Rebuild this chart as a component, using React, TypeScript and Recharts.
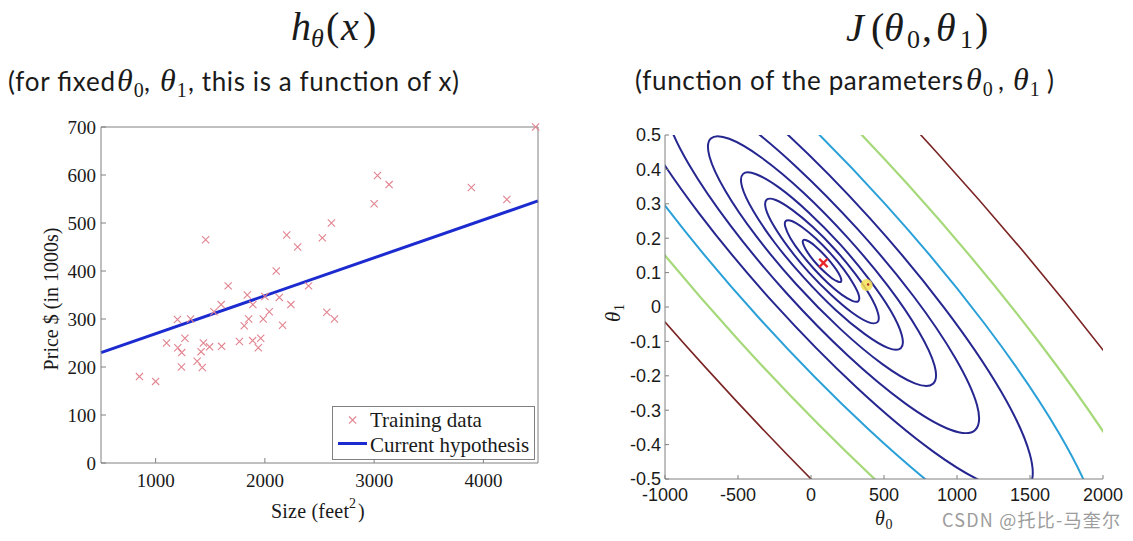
import React from 'react';
import { ComposedChart, Scatter, Line, XAxis, YAxis, Legend } from 'recharts';

// ---------------- left panel : training data ----------------
const houseSizes = [2104, 1600, 2400, 1416, 3000, 1985, 1534, 1427, 1380, 1494, 1940, 2000, 1890, 4478, 1268, 2300, 1320, 1236, 2609, 3031, 1767, 1888, 1604, 1962, 3890, 1100, 1458, 2526, 2200, 2637, 1839, 1000, 2040, 3137, 1811, 1437, 1239, 2132, 4215, 2162, 1664, 2238, 2567, 1200, 852, 1852, 1203];
const housePrices = [400, 330, 369, 232, 540, 300, 315, 199, 212, 242, 240, 347, 330, 700, 260, 450, 300, 200, 500, 599, 253, 255, 243, 260, 574, 250, 465, 469, 475, 300, 350, 170, 315, 580, 286, 250, 230, 345, 549, 287, 369, 330, 314, 299, 180, 300, 240];
const hypothesisX = [500, 4500];
const hypothesisY = [230, 546];
const sizeTicks = [1000, 2000, 3000, 4000];
const priceTicks = [0, 100, 200, 300, 400, 500, 600, 700];

// ---------------- right panel : contour lines of J(theta0, theta1) ----------------
const theta0Ticks = [-1000, -500, 0, 500, 1000, 1500, 2000];
const theta1Ticks = [-0.5, -0.4, -0.3, -0.2, -0.1, 0, 0.1, 0.2, 0.3, 0.4, 0.5];

const contour1 = [[204, 0.073], [206, 0.082], [188, 0.099], [152, 0.121], [105, 0.145], [54, 0.167], [6, 0.185], [-32, 0.194], [-53, 0.194], [-55, 0.185], [-37, 0.168], [-2, 0.146], [45, 0.122], [97, 0.100], [145, 0.083], [183, 0.074]];
const contour2 = [[324, 0.017], [327, 0.035], [291, 0.067], [223, 0.110], [133, 0.156], [33, 0.199], [-60, 0.232], [-132, 0.250], [-173, 0.250], [-176, 0.233], [-141, 0.200], [-73, 0.158], [18, 0.112], [117, 0.069], [210, 0.036], [283, 0.018]];
const contour3 = [[455, -0.044], [459, -0.018], [406, 0.032], [302, 0.097], [163, 0.168], [11, 0.233], [-131, 0.283], [-242, 0.311], [-304, 0.312], [-309, 0.285], [-255, 0.236], [-151, 0.171], [-13, 0.100], [139, 0.035], [281, -0.016], [392, -0.044]];
const contour4 = [[615, -0.120], [622, -0.082], [546, -0.011], [397, 0.081], [200, 0.182], [-16, 0.275], [-218, 0.347], [-376, 0.386], [-465, 0.387], [-472, 0.349], [-395, 0.279], [-247, 0.186], [-50, 0.086], [167, -0.008], [369, -0.079], [527, -0.119]];
const contour5 = [[836, -0.223], [846, -0.170], [738, -0.071], [529, 0.060], [252, 0.201], [-53, 0.333], [-338, 0.434], [-560, 0.489], [-686, 0.490], [-695, 0.437], [-587, 0.338], [-379, 0.208], [-101, 0.066], [204, -0.065], [489, -0.166], [711, -0.222]];
const contour6 = [[1123, -0.358], [1137, -0.285], [988, -0.148], [701, 0.032], [318, 0.227], [-102, 0.408], [-494, 0.547], [-800, 0.623], [-973, 0.625], [-986, 0.552], [-837, 0.415], [-550, 0.236], [-167, 0.040], [252, -0.141], [645, -0.280], [951, -0.356]];
const contour7 = [[1482, -0.526], [1499, -0.428], [1300, -0.244], [914, -0.003], [401, 0.259], [-162, 0.502], [-689, 0.688], [-1100, 0.791], [-1331, 0.793], [-1349, 0.695], [-1150, 0.512], [-764, 0.271], [-250, 0.009], [313, -0.234], [840, -0.421], [1251, -0.522]];
const contour8 = [[1940, -0.741], [1964, -0.611], [1699, -0.367], [1188, -0.048], [507, 0.300], [-240, 0.622], [-938, 0.869], [-1483, 1.005], [-1790, 1.008], [-1813, 0.878], [-1549, 0.635], [-1037, 0.315], [-356, -0.032], [390, -0.354], [1089, -0.602], [1633, -0.738]];
const contour9 = [[2597, -1.048], [2628, -0.873], [2271, -0.544], [1579, -0.112], [659, 0.358], [-351, 0.793], [-1295, 1.128], [-2031, 1.312], [-2446, 1.316], [-2478, 1.140], [-2120, 0.811], [-1429, 0.379], [-508, -0.091], [501, -0.526], [1446, -0.861], [2182, -1.044]];
const contour10 = [[3539, -1.490], [3582, -1.249], [3091, -0.797], [2141, -0.203], [877, 0.442], [-510, 1.040], [-1807, 1.500], [-2818, 1.752], [-3388, 1.757], [-3431, 1.516], [-2940, 1.064], [-1990, 0.471], [-726, -0.174], [661, -0.772], [1958, -1.232], [2969, -1.484]];

const minimumPoint = [85, 0.128];
const currentPoint = [381, 0.064];

// ---------------- styles ----------------
const NAVY = '#262690';
const CYAN = '#2aa0d8';
const GREEN = '#a6d97a';
const BROWN = '#7a2424';
const contourList = [contour10, contour9, contour8, contour7, contour6, contour5, contour4, contour3, contour2, contour1];
const contourColors = [BROWN, GREEN, CYAN, NAVY, NAVY, NAVY, NAVY, NAVY, NAVY, NAVY];
const contourWidths = [1.6, 2.2, 2, 2, 2, 2, 2, 2, 2, 2];

const SERIF = '"Liberation Serif", "Times New Roman", serif';
const SANS = 'Lato, "Liberation Sans", sans-serif';
const AXSANS = '"Liberation Sans", Arial, sans-serif';
const INK = '#1a1a1a';
const AXIS = '#808080';
const PINK = '#e2838f';
const BLUE = '#1c2bd0';

const trainingData = houseSizes.map((s, i) => ({ x: s, y: housePrices[i] }));
const hypothesisData = hypothesisX.map((x, i) => ({ x, y: hypothesisY[i] }));
const toTheta = (pts: number[][]) => pts.map(([a, b]) => ({ t0: a, t1: b }));
const contourData = contourList.map(toTheta);
const minData = [{ t0: minimumPoint[0], t1: minimumPoint[1] }];
const curData = [{ t0: currentPoint[0], t1: currentPoint[1] }];

// closed Catmull-Rom curve drawing style (smooth closed contour through the given points)
function closedSmooth(context: any) {
  let pts: number[][] = [];
  return {
    areaStart() {},
    areaEnd() {},
    lineStart() { pts = []; },
    point(x: number, y: number) { pts.push([+x, +y]); },
    lineEnd() {
      const n = pts.length;
      if (!n) return;
      context.moveTo(pts[0][0], pts[0][1]);
      for (let i = 0; i < n; i++) {
        const p0 = pts[(i - 1 + n) % n];
        const p1 = pts[i];
        const p2 = pts[(i + 1) % n];
        const p3 = pts[(i + 2) % n];
        context.bezierCurveTo(
          p1[0] + (p2[0] - p0[0]) / 6, p1[1] + (p2[1] - p0[1]) / 6,
          p2[0] - (p3[0] - p1[0]) / 6, p2[1] - (p3[1] - p1[1]) / 6,
          p2[0], p2[1]
        );
      }
      context.closePath();
    },
  };
}

const XMark = (props: any) => {
  const { cx, cy } = props;
  if (cx == null || cy == null) return null;
  const s = 3.6;
  return <path d={`M${cx - s},${cy - s}L${cx + s},${cy + s}M${cx + s},${cy - s}L${cx - s},${cy + s}`} stroke={PINK} strokeWidth={1.1} fill="none" />;
};
const MinMark = (props: any) => {
  const { cx, cy } = props;
  if (cx == null || cy == null) return null;
  const s = 4.2;
  return <path d={`M${cx - s},${cy - s}L${cx + s},${cy + s}M${cx + s},${cy - s}L${cx - s},${cy + s}`} stroke="#e8232a" strokeWidth={2.3} fill="none" />;
};
const CurMark = (props: any) => {
  const { cx, cy } = props;
  if (cx == null || cy == null) return null;
  return (
    <g>
      <circle cx={cx} cy={cy} r={6} fill="#f3df55" fillOpacity={0.85} />
      <circle cx={cx + 1.5} cy={cy - 0.5} r={1.2} fill="#b03020" />
    </g>
  );
};

const legendContent = () => (
  <svg width={203} height={54} style={{ display: 'block' }}>
    <rect x={0.5} y={0.5} width={202} height={53} fill="#fff" stroke={AXIS} strokeWidth={1} />
    <path d="M17,10.5L24.2,17.7M24.2,10.5L17,17.7" stroke={PINK} strokeWidth={1.1} fill="none" />
    <text x={38} y={21} fontFamily={SERIF} fontSize={21} fill={INK}>Training data</text>
    <line x1={6} x2={35} y1={37.5} y2={37.5} stroke={BLUE} strokeWidth={3} />
    <text x={38} y={46} fontFamily={SERIF} fontSize={21} fill={INK}>Current hypothesis</text>
  </svg>
);

const Theta = ({ x, y, sub, size, subSize, subDy }: any) => (
  <text fontFamily={SERIF} fill={INK}>
    <tspan x={x} y={y} fontStyle="italic" fontSize={size}>θ</tspan>
    <tspan x={x + size * 0.52} y={y + subDy} fontSize={subSize}>{sub}</tspan>
  </text>
);

const leftTick = { fontFamily: SERIF, fontSize: 19, fill: INK };
const rightTick = { fontFamily: AXSANS, fontSize: 18, fill: INK };

export default function App() {
  return (
    <div style={{ position: 'absolute', left: 0, top: 0, width: 1133, height: 541, background: '#fff', overflow: 'hidden' }}>
      {/* left chart */}
      <div style={{ position: 'absolute', left: 0, top: 0 }}>
        <ComposedChart width={560} height={541} margin={{ top: 126, right: 21, bottom: 38, left: 41 }}>
          <XAxis xAxisId="b" dataKey="x" type="number" domain={[500, 4500]} ticks={sizeTicks} interval={0}
            tickSize={-5} tickMargin={16} stroke={AXIS} tick={leftTick} height={40} />
          <XAxis xAxisId="t" orientation="top" type="number" domain={[500, 4500]} ticks={sizeTicks} interval={0}
            allowDataOverflow tickSize={-5} stroke={AXIS} tick={false} height={1} />
          <YAxis yAxisId="l" dataKey="y" type="number" domain={[0, 700]} ticks={priceTicks} interval={0}
            tickSize={-5} tickMargin={10} stroke={AXIS} tick={leftTick} width={60} />
          <YAxis yAxisId="r" orientation="right" type="number" domain={[0, 700]} ticks={priceTicks} interval={0}
            allowDataOverflow tickSize={-5} stroke={AXIS} tick={false} width={1} />
          <Scatter xAxisId="b" yAxisId="l" name="Training data" data={trainingData} shape={<XMark />} isAnimationActive={false} />
          <Line xAxisId="b" yAxisId="l" name="Current hypothesis" data={hypothesisData} dataKey="y" type="linear"
            stroke={BLUE} strokeWidth={3} dot={false} activeDot={false} isAnimationActive={false} />
          <Legend layout="vertical" align="center" verticalAlign="middle" content={legendContent}
            wrapperStyle={{ left: 332, top: 406, width: 203, height: 54, lineHeight: 0 }} />
        </ComposedChart>
      </div>

      {/* right chart */}
      <div style={{ position: 'absolute', left: 580, top: 0 }}>
        <ComposedChart width={553} height={541} margin={{ top: 135, right: 30, bottom: 22, left: 25 }}>
          <XAxis dataKey="t0" type="number" domain={[-1000, 2000]} ticks={theta0Ticks} interval={0} allowDataOverflow
            tickSize={-4} tickMargin={13} stroke={AXIS} tick={rightTick} height={40} />
          <YAxis dataKey="t1" type="number" domain={[-0.5, 0.5]} ticks={theta1Ticks} interval={0} allowDataOverflow
            tickSize={-4} tickMargin={8} stroke={AXIS} tick={rightTick} width={60} tickFormatter={(v: number) => String(v)} />
          {contourData.map((d, i) => (
            <Line key={i} data={d} dataKey="t1" type={closedSmooth as any} stroke={contourColors[i]} strokeWidth={contourWidths[i]}
              dot={false} activeDot={false} isAnimationActive={false} legendType="none" strokeLinejoin="round" />
          ))}
          <Scatter data={curData} shape={<CurMark />} isAnimationActive={false} />
          <Scatter data={minData} shape={<MinMark />} isAnimationActive={false} />
        </ComposedChart>
      </div>

      {/* titles and axis captions */}
      <svg width={1133} height={541} style={{ position: 'absolute', left: 0, top: 0, pointerEvents: 'none' }}>
        {/* h_theta(x) */}
        <text fontFamily={SERIF} fontSize={40} fill={INK}>
          <tspan x={291} y={40} fontStyle="italic">h</tspan>
          <tspan x={311} y={47} fontSize={26} fontStyle="italic">θ</tspan>
          <tspan x={326} y={40}>(</tspan>
          <tspan x={341} y={40} fontStyle="italic">x</tspan>
          <tspan x={363} y={40}>)</tspan>
        </text>
        <text x={8} y={91} fontFamily={SANS} fontSize={26} fill={INK} textLength={107} lengthAdjust="spacing">(for fixed</text>
        <Theta x={117} y={91} sub="0" size={32} subSize={20} subDy={6} />
        <text x={144} y={91} fontFamily={SANS} fontSize={26} fill={INK}>,</text>
        <Theta x={160} y={91} sub="1" size={32} subSize={20} subDy={6} />
        <text x={188} y={91} fontFamily={SANS} fontSize={26} fill={INK} textLength={271} lengthAdjust="spacing">, this is a function of x)</text>

        {/* J(theta0, theta1) */}
        <text fontFamily={SERIF} fontSize={40} fill={INK}>
          <tspan x={846} y={41} fontStyle="italic">J</tspan>
          <tspan x={871} y={41}>(</tspan>
          <tspan x={884} y={41} fontStyle="italic">θ</tspan>
          <tspan x={907} y={48} fontSize={26}>0</tspan>
          <tspan x={922} y={41}>,</tspan>
          <tspan x={936} y={41} fontStyle="italic">θ</tspan>
          <tspan x={960} y={48} fontSize={26}>1</tspan>
          <tspan x={975} y={41}>)</tspan>
        </text>
        <text x={635} y={90} fontFamily={SANS} fontSize={26} fill={INK} textLength={328} lengthAdjust="spacing">(function of the parameters</text>
        <Theta x={966} y={90} sub="0" size={32} subSize={20} subDy={6} />
        <text x={998} y={90} fontFamily={SANS} fontSize={26} fill={INK}>,</text>
        <Theta x={1013} y={90} sub="1" size={32} subSize={20} subDy={6} />
        <text x={1047} y={90} fontFamily={SANS} fontSize={26} fill={INK}>)</text>

        {/* left axis captions */}
        <text fontFamily={SERIF} fill={INK} fontSize={20}>
          <tspan x={271} y={518} textLength={78} lengthAdjust="spacing">Size (feet</tspan>
          <tspan x={349} y={508} fontSize={14}>2</tspan>
          <tspan x={358} y={518}>)</tspan>
        </text>
        <text x={58} y={299} transform="rotate(-90 58 299)" textAnchor="middle" fontFamily={SERIF} fontSize={20} fill={INK}>Price $ (in 1000s)</text>

        {/* right axis captions */}
        <Theta x={875} y={525} sub="0" size={20} subSize={14} subDy={4} />
        <g transform="translate(620,313) rotate(-90)">
          <Theta x={-9} y={0} sub="1" size={21} subSize={14} subDy={4} />
        </g>

        {/* watermark */}
        <text x={942} y={527} fontFamily='"Noto Sans CJK SC", "Noto Sans", sans-serif' fontSize={18} fill="#9c9c9c" textLength={178} lengthAdjust="spacing">CSDN @托比-马奎尔</text>
      </svg>
    </div>
  );
}
